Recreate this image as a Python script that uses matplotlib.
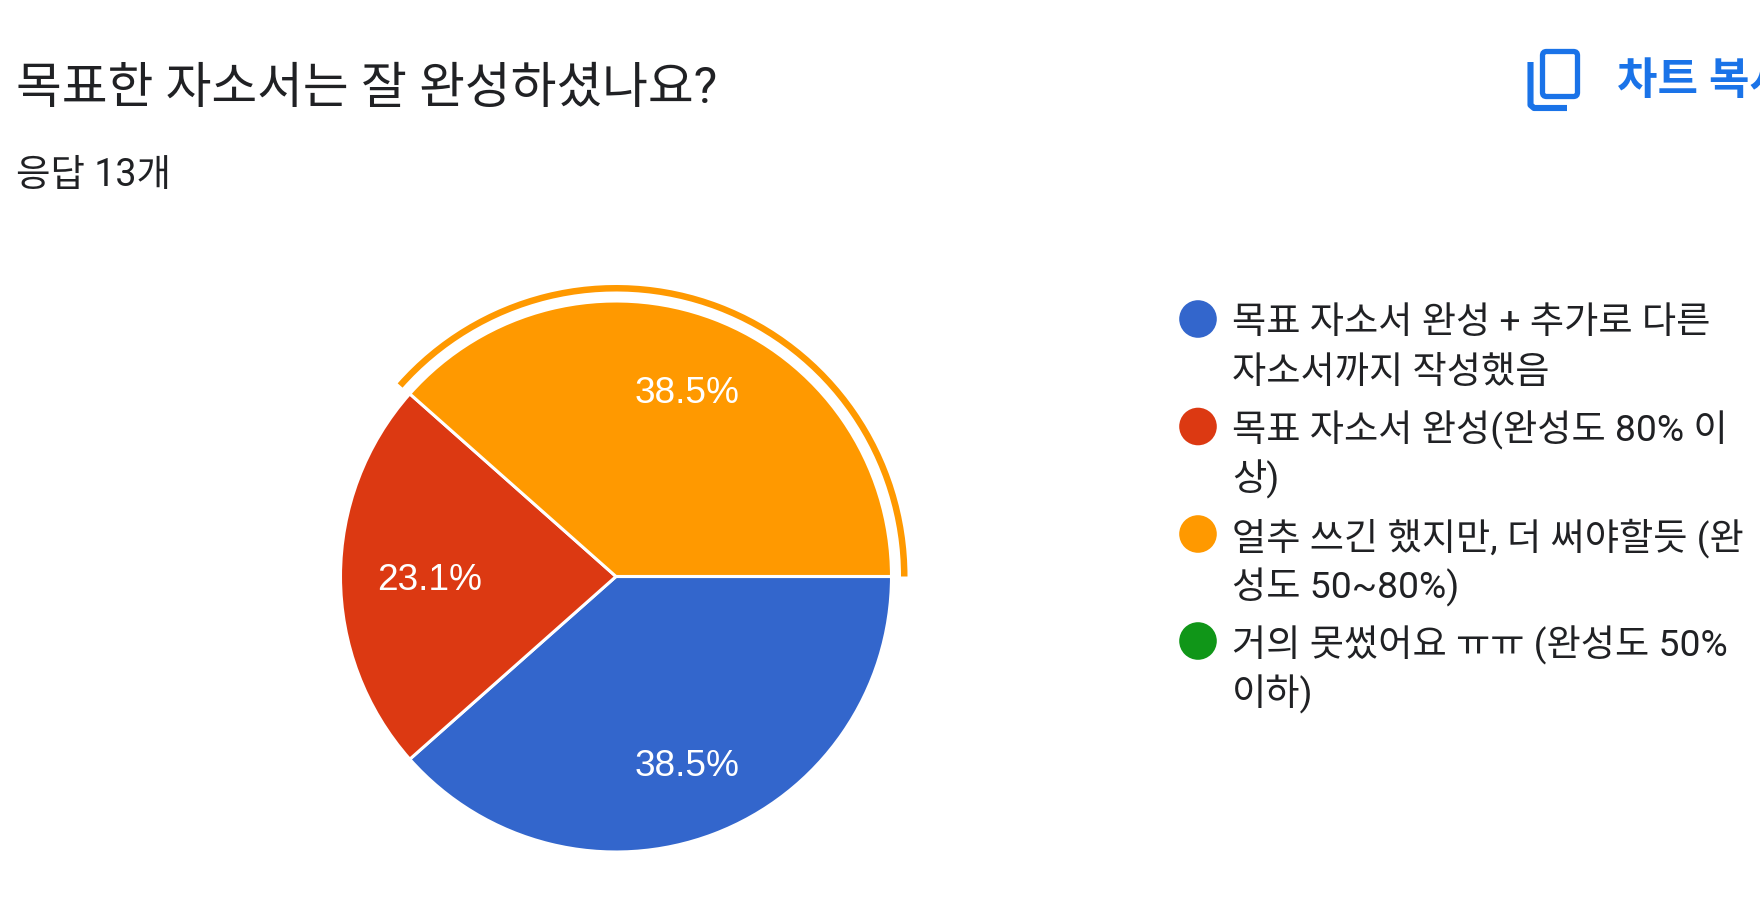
import matplotlib
matplotlib.use("Agg")
import matplotlib.pyplot as plt
from matplotlib.patches import Wedge, Circle, FancyBboxPatch

FONT = ['Roboto', 'Noto Sans CJK KR', 'DejaVu Sans']
ARIAL = ['Liberation Sans', 'Noto Sans CJK KR']
plt.rcParams['font.family'] = FONT

title = "목표한 자소서는 잘 완성하셨나요?"
subtitle = "응답 13개"
button = "차트 복사"
categories = [
    "목표 자소서 완성 + 추가로 다른\n자소서까지 작성했음",
    "목표 자소서 완성(완성도 80% 이\n상)",
    "얼추 쓰긴 했지만, 더 써야할듯 (완\n성도 50~80%)",
    "거의 못썼어요 ㅠㅠ (완성도 50%\n이하)",
]
counts = [5, 3, 5, 0]
colors = ['#3366CC', '#DC3912', '#FF9900', '#109618']

W, H = 1760, 910
fig = plt.figure(figsize=(W / 100, H / 100), dpi=100, facecolor='white')
ax = fig.add_axes([0, 0, 1, 1])
def Y(py):
    return H - py
def fs(px):
    return px * 0.72

CX, CY, R = 616, 576.5, 275.5
wedges, _, autos = ax.pie(
    counts, colors=colors, center=(CX, Y(CY)), radius=R, startangle=0, counterclock=False,
    autopct=lambda p: f"{p:.1f}%" if p > 0 else "", pctdistance=0.728,
    wedgeprops=dict(edgecolor='white', linewidth=2.2),
    textprops=dict(color='white', fontsize=fs(37), family=ARIAL), frame=False)
autos[0].set_position((687, Y(763)))
autos[1].set_position((430, Y(576)))
autos[2].set_position((687, Y(389.5)))
for a in autos:
    a.set_verticalalignment('center_baseline')
ax.set_xlim(0, W)
ax.set_ylim(0, H)
ax.set_aspect('auto')
ax.axis('off')

# highlight ring on the selected slice
ax.add_patch(Wedge((CX, Y(CY)), 291.5, 0, 138.5, width=6.5, facecolor='#FF9900', edgecolor='none'))

TXT = '#202124'
ax.text(16, Y(103), title, fontsize=fs(49.8), color=TXT, va='baseline', ha='left')
ax.text(16, Y(186), subtitle, fontsize=fs(37.5), color=TXT, va='baseline', ha='left')

# legend
line_ys = [(319, 369), (426.5, 475.5), (534, 583.5), (641, 690)]
for lab, c, ys in zip(categories, colors, line_ys):
    ax.add_patch(Circle((1198, Y(ys[0])), 18.8, facecolor=c, edgecolor='none'))
    for ln, y in zip(lab.split('\n'), ys):
        ax.text(1232, Y(y), ln, fontsize=fs(37.2), color=TXT, va='center_baseline', ha='left')

# copy button
BLUE = '#1A73E8'
ax.add_patch(FancyBboxPatch((1542.5, Y(96.5)), 35, 45, boxstyle='round,pad=0,rounding_size=4',
                            facecolor='none', edgecolor=BLUE, linewidth=3.8))
ax.plot([1530.5, 1530.5, 1534, 1567], [Y(62), Y(105), Y(108), Y(108)], color=BLUE, lw=4.4,
        solid_capstyle='butt', solid_joinstyle='round')
ax.text(1617, Y(78), button, fontsize=fs(44), color=BLUE, va='center_baseline', ha='left',
        weight='bold', clip_on=True)

fig.savefig('out.png', dpi=100, facecolor='white')
